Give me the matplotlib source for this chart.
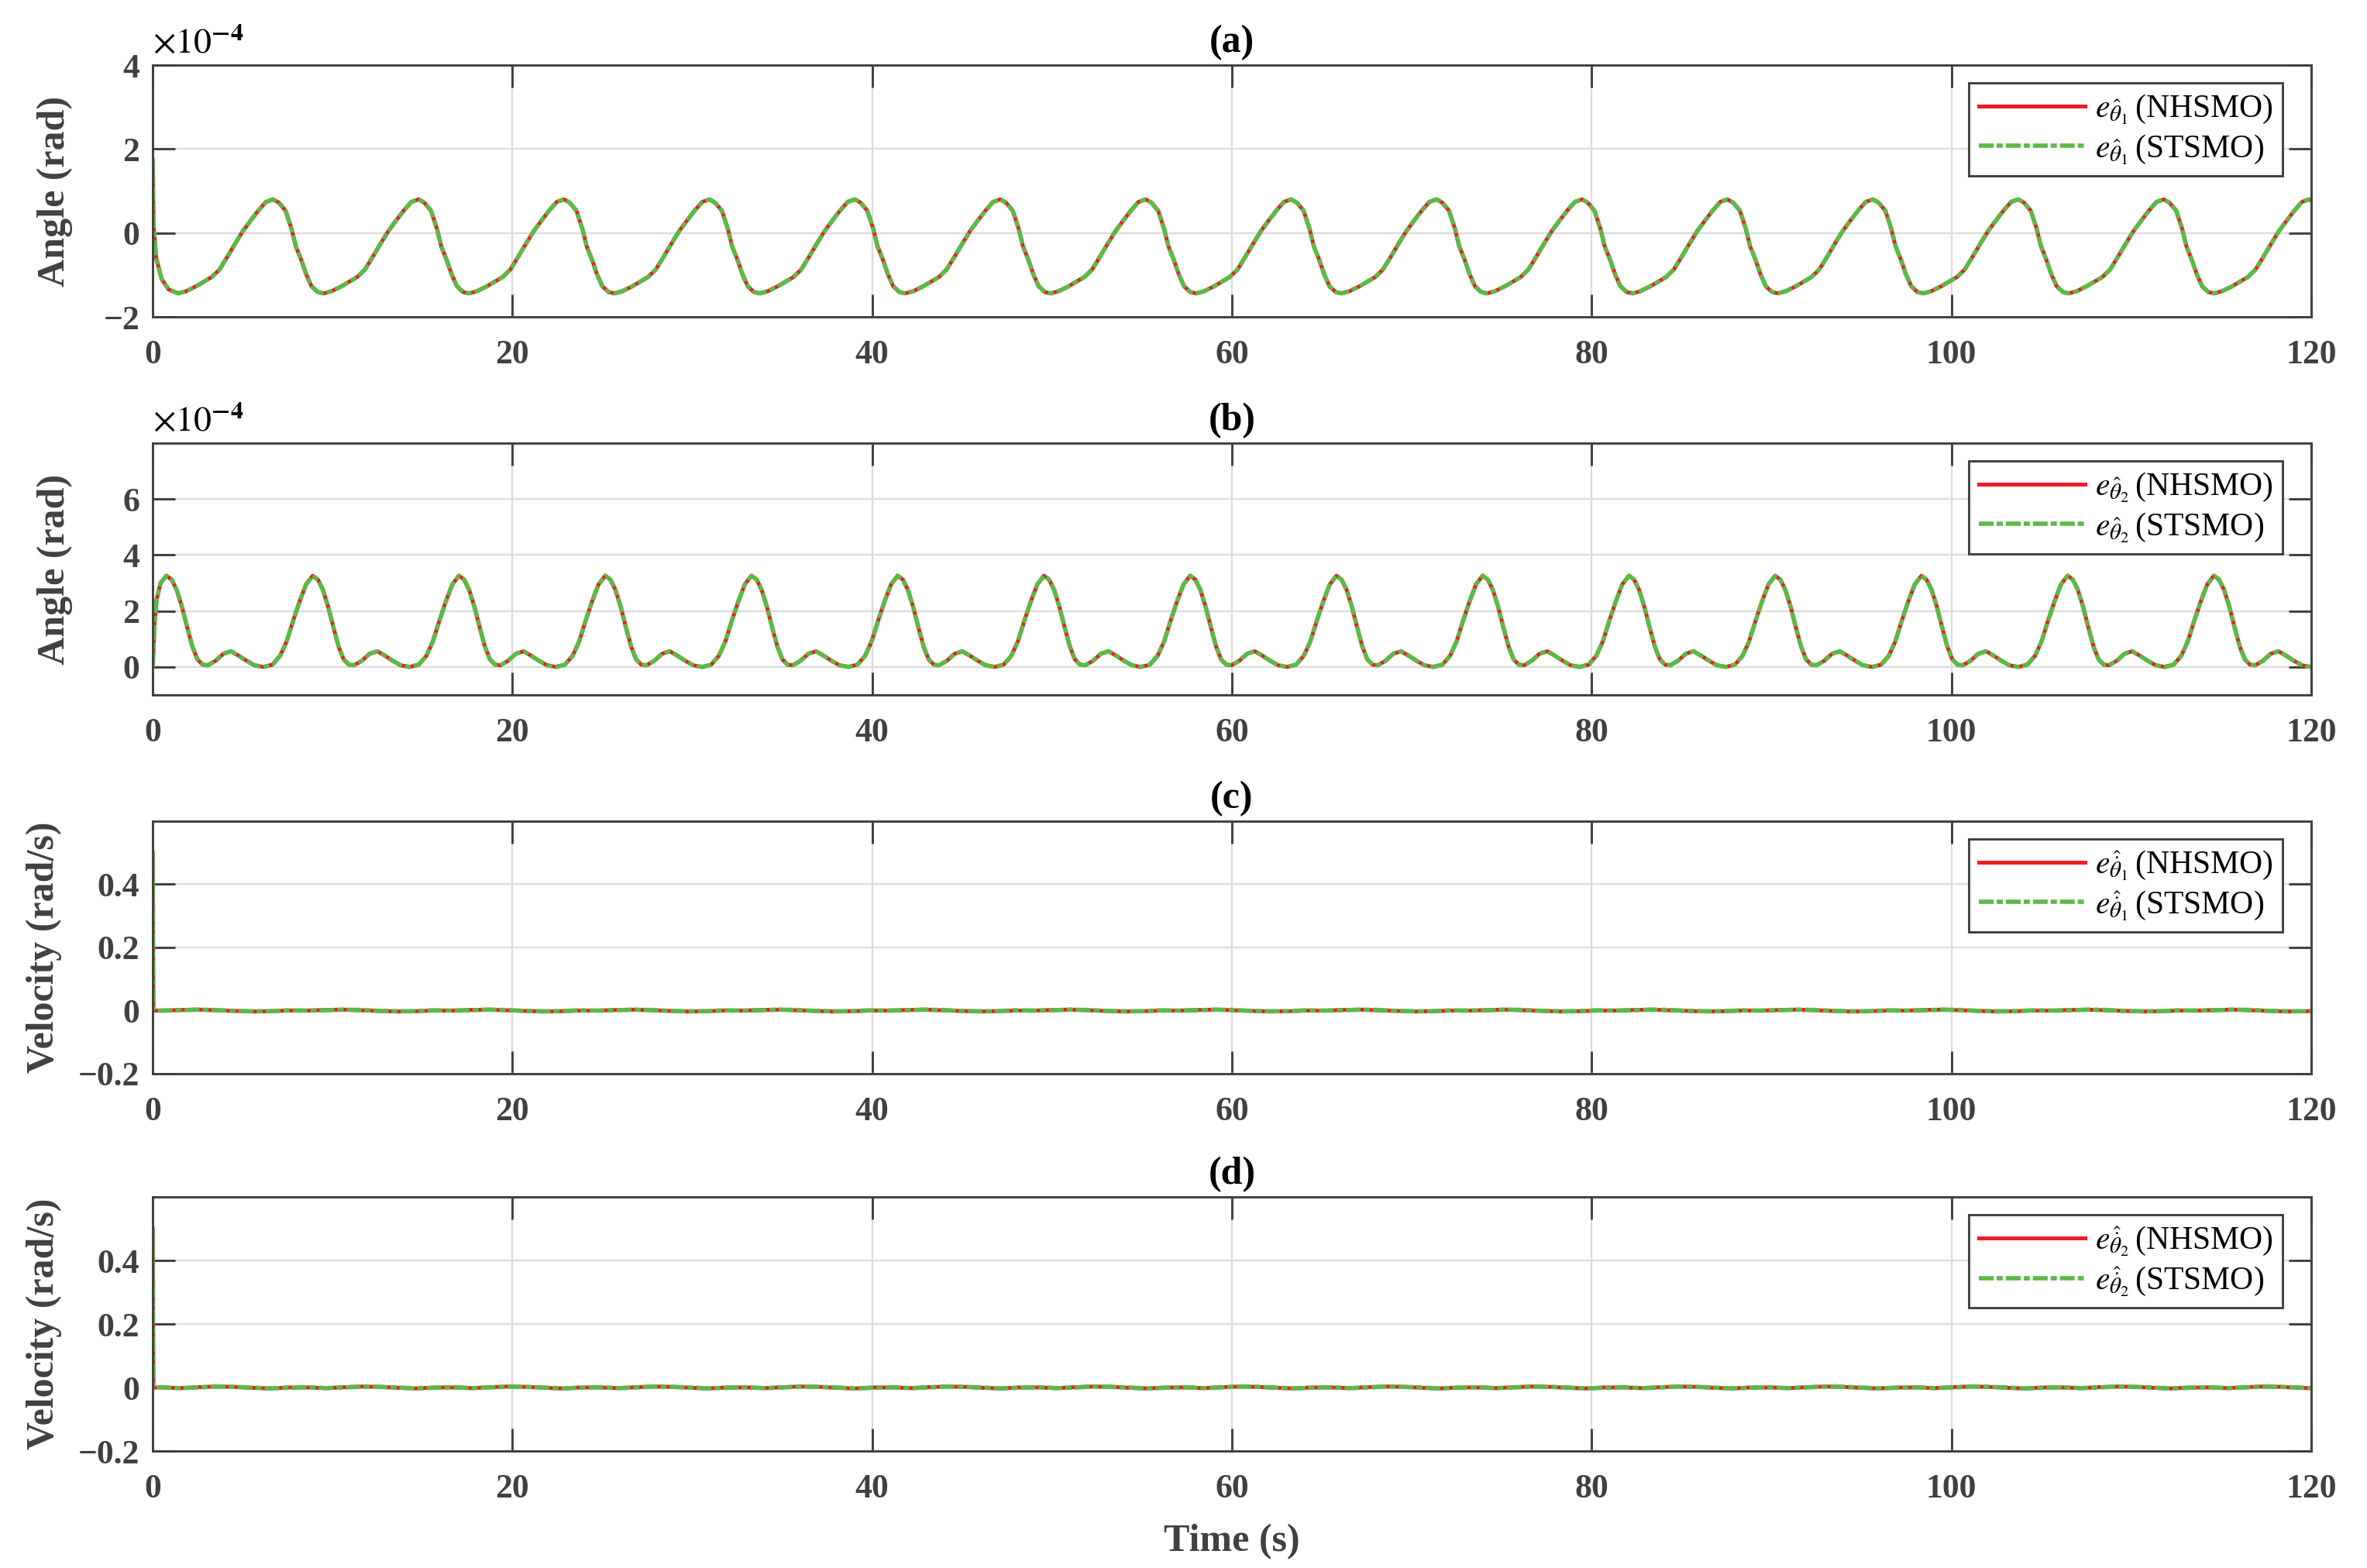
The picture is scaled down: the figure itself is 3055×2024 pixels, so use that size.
import matplotlib
matplotlib.use('Agg')
import matplotlib.pyplot as plt
import numpy as np

plt.rcParams['font.family'] = ['Liberation Serif', 'DejaVu Serif']
plt.rcParams['mathtext.fontset'] = 'stix'

## data
# (a) theta1 angle error (x1e-4 rad): start transient, then one repeating cycle
a_start_t = [0.0, 0.05, 0.2, 0.5, 0.9]
a_start_v = [1.75, 0.2, -0.6, -1.1, -1.35]
a_first = 1.42      # time of first minimum (s)
a_period = 8.085
a_phase = [0, 0.43, 1.0, 1.87, 2.3, 2.73, 3.16, 3.59, 4.02, 4.45, 4.88, 5.28,
           5.6, 5.97, 6.3, 6.54, 6.83, 7.12, 7.41, 7.76]
a_cycle = [-1.44, -1.39, -1.27, -1.05, -0.87, -0.57, -0.26, 0.04, 0.29, 0.53, 0.74, 0.80,
           0.72, 0.53, 0.10, -0.32, -0.63, -0.99, -1.27, -1.41]

# (b) theta2 angle error (x1e-4 rad)
b_start_t = [0.0, 0.11, 0.22, 0.44]
b_start_v = [0.0, 1.56, 2.4, 3.0]
b_first = 0.77      # time of first peak (s)
b_period = 8.13
b_phase = [0, 0.29, 0.57, 0.86, 1.15, 1.44, 1.72, 2.01, 2.3, 2.73, 3.16, 3.59, 4.02,
           4.45, 4.89, 5.39, 5.89, 6.32, 6.68, 7.04, 7.4, 7.76]
b_cycle = [3.26, 3.12, 2.75, 2.15, 1.42, 0.73, 0.27, 0.08, 0.06, 0.22, 0.47, 0.56, 0.40,
           0.22, 0.06, 0.0, 0.08, 0.40, 0.91, 1.65, 2.34, 2.95]

# (c) / (d) velocity errors (rad/s): spike at t=0 then tiny ripple
c_start_t = [0.0, 0.04]
c_start_v = [0.5, 0.0]
d_start_t = [0.0, 0.04]
d_start_v = [0.5, 0.0]
vel_phase = [0, 1.0, 2.0, 3.0, 4.0, 5.0, 6.0, 7.0]
c_cycle_nh = [0.000, 0.002, 0.003, 0.001, -0.001, -0.003, -0.002, 0.000]
c_cycle_st = [0.000, 0.001, 0.003, 0.002, -0.001, -0.002, -0.002, 0.001]
d_cycle_nh = [0.000, -0.002, 0.001, 0.003, 0.002, -0.001, -0.003, 0.000]
d_cycle_st = [0.001, -0.002, 0.000, 0.003, 0.002, 0.000, -0.003, -0.001]

xticks = [0, 20, 40, 60, 80, 100, 120]
ang1_ticks = [-2, 0, 2, 4]
ang2_ticks = [0, 2, 4, 6]
vel_ticks = [-0.2, 0, 0.2, 0.4]
vel_ticklabels = ['\u22120.2', '0', '0.2', '0.4']

titles = ['(a)', '(b)', '(c)', '(d)']
ylabels = ['Angle (rad)', 'Angle (rad)', 'Velocity (rad/s)', 'Velocity (rad/s)']
leg_nh = [r'$e_{\hat{\theta}_1}\,$(NHSMO)', r'$e_{\hat{\theta}_2}\,$(NHSMO)',
          r'$e_{\hat{\dot{\theta}}_1}\,$(NHSMO)', r'$e_{\hat{\dot{\theta}}_2}\,$(NHSMO)']
leg_st = [r'$e_{\hat{\theta}_1}\,$(STSMO)', r'$e_{\hat{\theta}_2}\,$(STSMO)',
          r'$e_{\hat{\dot{\theta}}_1}\,$(STSMO)', r'$e_{\hat{\dot{\theta}}_2}\,$(STSMO)']


def build(st, sv, first, period, phase, cycle, tmax=121.0):
    t = list(st)
    v = list(sv)
    k = 0
    while first + k * period <= tmax:
        for p, c in zip(phase, cycle):
            t.append(first + k * period + p)
            v.append(c)
        k += 1
    return np.array(t), np.array(v)


ta, va = build(a_start_t, a_start_v, a_first, a_period, a_phase, a_cycle)
tb, vb = build(b_start_t, b_start_v, b_first, b_period, b_phase, b_cycle)
tc1, vc1 = build(c_start_t, c_start_v, 0.5, a_period, vel_phase, c_cycle_nh)
tc2, vc2 = build(c_start_t, c_start_v, 0.5, a_period, vel_phase, c_cycle_st)
td1, vd1 = build(d_start_t, d_start_v, 0.5, b_period, vel_phase, d_cycle_nh)
td2, vd2 = build(d_start_t, d_start_v, 0.5, b_period, vel_phase, d_cycle_st)

series = [((ta, va), (ta, va)), ((tb, vb), (tb, vb)),
          ((tc1, vc1), (tc2, vc2)), ((td1, vd1), (td2, vd2))]

RED = '#EE1C25'
GREEN = '#5DB946'
AX = '#404040'

fig = plt.figure(figsize=(3055 / 300, 2024 / 300), dpi=300)
boxes = [[0.06448, 0.79792, 0.91194, 0.16057],
         [0.06448, 0.55682, 0.91194, 0.16057],
         [0.06448, 0.31522, 0.91194, 0.16107],
         [0.06448, 0.07460, 0.91194, 0.16206]]
ylims = [(-2, 4), (-1, 8), (-0.2, 0.6), (-0.2, 0.6)]
yt = [ang1_ticks, ang2_ticks, vel_ticks, vel_ticks]
ylab_x = [-0.037, -0.037, -0.042, -0.042]

for i in range(4):
    ax = fig.add_axes(boxes[i])
    (t1, y1), (t2, y2) = series[i]
    ax.plot(t1, y1, color=RED, lw=1.2, label=leg_nh[i])
    ax.plot(t2, y2, color=GREEN, lw=1.35, dashes=(3.4, 0.7, 1.4, 0.7), label=leg_st[i])
    ax.set_xlim(0, 120)
    ax.set_ylim(*ylims[i])
    ax.set_xticks(xticks)
    ax.set_yticks(yt[i])
    if i >= 2:
        ax.set_yticklabels(vel_ticklabels)
    for lab in ax.get_xticklabels() + ax.get_yticklabels():
        lab.set_fontweight('bold')
    ax.grid(True, color='#DCDCDC', lw=0.55)
    ax.set_axisbelow(True)
    ax.tick_params(direction='in', length=7, width=0.7, color=AX, labelcolor=AX,
                   labelsize=10.5, top=True, right=True)
    ax.tick_params(axis='x', pad=7)
    ax.tick_params(axis='y', pad=4)
    for s in ax.spines.values():
        s.set_color(AX)
        s.set_linewidth(0.7)
    ax.set_title(titles[i], fontsize=12, fontweight='bold', color='black', pad=4)
    ax.set_ylabel(ylabels[i], fontsize=12, fontweight='bold', color=AX)
    ax.yaxis.set_label_coords(ylab_x[i], 0.5)
    if i < 2:
        ax.text(0.0, 1.02, r'$\times10^{\mathbf{-4}}$', transform=ax.transAxes,
                ha='left', va='bottom', fontsize=11, color='black')
    leg = ax.legend(loc='upper right', bbox_to_anchor=(1 - 37 / 2786, 1 - 23 / 325),
                    borderaxespad=0, prop={'family': 'Liberation Serif', 'weight': 'normal', 'size': 10},
                    handlelength=3.3, handletextpad=0.3, labelspacing=0.2, borderpad=0.3,
                    fancybox=False, edgecolor=AX, framealpha=1)
    leg.get_frame().set_linewidth(0.7)
    if i == 3:
        ax.set_xlabel('Time (s)', fontsize=12, fontweight='bold', color=AX, labelpad=6)

fig.savefig('out.png', dpi=300)
